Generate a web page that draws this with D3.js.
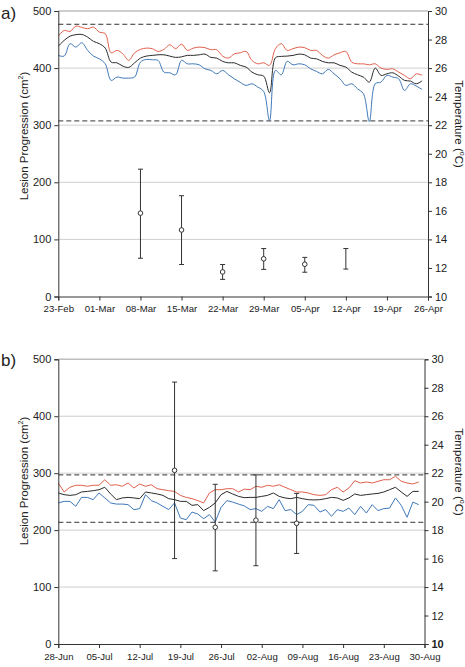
<!DOCTYPE html>
<html><head><meta charset="utf-8">
<script src="https://cdn.jsdelivr.net/npm/d3@7"></script>
<style>body{margin:0;background:#fff}svg{display:block;font-family:"Liberation Sans",Arial,sans-serif}</style>
</head><body><svg id="c" width="465" height="667"></svg>
<script>
// ---------- Panel a) data ----------
const aStart = "2008-02-23";
const aTickLabels = ["23-Feb","01-Mar","08-Mar","15-Mar","22-Mar","29-Mar","05-Apr","12-Apr","19-Apr","26-Apr"];
const aMax = [28.24,28.64,28.57,28.94,28.85,28.76,28.87,28.52,28.41,27.07,27.24,27.0,26.54,27.07,27.31,27.4,27.36,27.17,27.31,27.64,27.36,27.68,27.24,27.4,27.47,27.43,27.29,27.29,26.84,26.7,27.0,27.07,
  27.17,26.54,26.3,26.37,26.19,27.36,27.71,27.24,27.36,27.47,27.43,27.24,27.24,26.89,26.7,26.93,27.07,27.17,26.42,26.3,26.3,26.23,26.3,26.0,25.91,25.95,25.72,25.49,25.25,25.6,25.49];
const aMean = [27.54,27.94,28.24,28.34,28.36,28.17,27.87,27.71,27.4,26.42,26.37,26.14,26.05,26.37,26.7,26.84,26.89,26.93,26.93,26.84,26.75,26.79,26.89,26.89,26.93,26.98,26.75,26.7,26.47,26.37,26.37,26.19,
  26.07,25.72,25.53,25.44,24.27,26.72,26.82,26.84,26.89,26.98,26.93,26.7,26.65,26.47,26.37,26.37,26.19,26.07,25.72,25.53,25.37,25.02,26.0,25.49,25.6,25.67,25.44,25.14,25.09,24.9,25.11];
const aMin = [26.89,26.84,27.71,27.47,27.78,27.24,26.84,26.65,26.3,25.14,25.37,25.3,25.3,25.37,26.42,26.61,26.58,26.54,25.72,25.67,25.53,26.54,26.3,26.3,26.23,25.95,25.84,25.6,25.84,25.53,25.25,25.0,
  24.79,24.9,24.67,24.36,22.33,25.84,25.53,26.47,26.23,26.3,26.23,25.95,25.77,25.6,25.91,25.6,25.25,24.79,24.9,24.55,24.2,22.26,24.9,25.02,25.49,25.37,25.25,24.43,24.9,24.74,24.5];
const aDashed = [29.07, 22.3];
const aBarDates = ["2008-03-08","2008-03-15","2008-03-22","2008-03-29","2008-04-05","2008-04-12"];
const aBarMean = [146, 116.5, 43, 66, 56.5, null];
const aBarLow  = [67, 56, 30, 47.5, 42.5, 48];
const aBarHigh = [223, 176.5, 56, 84, 68.5, 84];

// ---------- Panel b) data ----------
const bStart = "2008-06-28";
const bTickLabels = ["28-Jun","05-Jul","12-Jul","19-Jul","26-Jul","02-Aug","09-Aug","16-Aug","23-Aug","30-Aug"];
const bMax = [21.31,20.68,21.01,21.15,21.15,21.08,21.15,21.15,21.54,21.15,21.19,21.08,21.31,20.96,21.24,21.08,21.19,20.91,20.84,20.77,20.72,20.44,20.3,20.21,20.07,19.91,20.61,20.84,20.84,20.91,20.91,20.68,
  20.88,20.84,21.08,21.01,21.15,21.08,21.19,21.01,20.84,20.68,20.68,20.61,20.49,20.44,20.49,20.84,21.01,20.68,20.96,21.47,21.31,21.38,21.31,21.43,21.54,21.54,21.78,21.43,21.31,21.24,21.38];
const bMean = [20.61,20.49,20.44,20.49,20.68,20.72,20.77,20.84,21.01,20.54,20.14,20.26,20.3,20.26,20.21,20.68,20.61,20.54,20.44,20.21,20.14,20.02,20.02,19.74,19.79,19.37,19.6,19.91,20.49,20.72,20.54,20.37,
  20.28,20.3,20.3,20.37,20.44,20.61,20.37,20.26,20.21,20.3,20.21,20.14,20.12,20.14,20.21,20.3,20.26,20.09,20.26,20.54,20.44,20.49,20.54,20.58,20.68,20.84,21.01,20.68,20.37,20.72,20.72];
const bMin = [19.91,20.02,20.02,19.67,20.3,20.3,20.14,20.61,20.26,19.91,19.83,19.83,19.79,19.44,19.51,20.49,20.07,19.91,19.67,19.44,19.91,18.85,18.73,19.27,19.13,18.8,19.09,18.57,19.6,20.07,19.97,19.83,
  19.7,19.44,19.51,19.32,19.67,19.51,20.14,19.37,19.44,19.09,19.32,19.79,19.74,19.27,19.44,18.97,19.44,19.32,19.55,19.09,19.67,19.2,19.79,19.37,19.51,19.55,20.26,19.74,18.9,19.97,19.79];
const bDashed = [21.88, 18.55];
const bBarDates = ["2008-07-18","2008-07-25","2008-08-01","2008-08-08"];
const bBarMean = [305, 205, 217.5, 212];
const bBarLow  = [150, 128.5, 137.5, 159];
const bBarHigh = [460, 280.5, 297, 264.5];

const lesionTicks = [0,100,200,300,400,500];
const tempTicks = [10,12,14,16,18,20,22,24,26,28,30];

const svg = d3.select("#c");
const parse = d3.timeParse("%Y-%m-%d");
const fmt = d3.timeFormat("%d-%b");

function panel(o) {
  const g = svg.append("g");
  const start = parse(o.start);
  const days = d3.range(o.max.length).map(i => d3.timeDay.offset(start, i));
  const tickDates = o.tickLabels.map((t, i) => d3.timeDay.offset(start, 7 * i));
  const x = d3.scaleTime().domain([start, tickDates[tickDates.length - 1]]).range([o.left, o.right]);
  const y = d3.scaleLinear().domain([0, 500]).range([o.bottom, o.top]);
  const yT = d3.scaleLinear().domain([10, 30]).range([o.bottom, o.top]);

  // gridlines
  g.selectAll(".grid").data(lesionTicks.filter(d => d > 0)).join("line")
    .attr("x1", o.left).attr("x2", o.right)
    .attr("y1", d => y(d)).attr("y2", d => y(d))
    .attr("stroke", d => d === 500 ? "#bdbdbd" : "#cfcfcf").attr("stroke-width", d => d === 500 ? 1.5 : 1);

  // dashed thresholds
  g.selectAll(".dash").data(o.dashed).join("line")
    .attr("x1", o.left).attr("x2", o.right)
    .attr("y1", d => yT(d)).attr("y2", d => yT(d))
    .attr("stroke", "#333").attr("stroke-width", 1).attr("stroke-dasharray", "5,3");

  // temperature lines
  const line = d3.line().x((d, i) => x(days[i])).y(d => yT(d)).curve(o.curve);
  [[o.max, "#e0604c"], [o.mean, "#2b2b2b"], [o.min, "#3f78b8"]].forEach(([s, c]) => {
    g.append("path").datum(s).attr("d", line).attr("fill", "none")
      .attr("stroke", c).attr("stroke-width", 1);
  });

  // error bars
  const bars = o.barDates.map((d, i) => ({ x: x(parse(d)), m: o.barMean[i], lo: o.barLow[i], hi: o.barHigh[i] }));
  const eb = g.selectAll(".eb").data(bars).join("g");
  eb.append("line").attr("x1", d => d.x).attr("x2", d => d.x).attr("y1", d => y(d.lo)).attr("y2", d => y(d.hi))
    .attr("stroke", "#333").attr("stroke-width", 1);
  eb.append("line").attr("x1", d => d.x - 2.5).attr("x2", d => d.x + 2.5).attr("y1", d => y(d.lo)).attr("y2", d => y(d.lo))
    .attr("stroke", "#333").attr("stroke-width", 1);
  eb.append("line").attr("x1", d => d.x - 2.5).attr("x2", d => d.x + 2.5).attr("y1", d => y(d.hi)).attr("y2", d => y(d.hi))
    .attr("stroke", "#333").attr("stroke-width", 1);
  eb.filter(d => d.m != null).append("circle").attr("cx", d => d.x).attr("cy", d => y(d.m)).attr("r", 2.3)
    .attr("fill", "#fff").attr("stroke", "#333").attr("stroke-width", 1);

  // axes
  const xAxis = d3.axisBottom(x).tickValues(tickDates).tickFormat((d, i) => o.tickLabels[i]).tickSizeOuter(0).tickSize(4).tickPadding(5);
  const gx = g.append("g").attr("transform", `translate(0,${o.bottom})`).call(xAxis);
  gx.selectAll("text").attr("font-size", 9.6).attr("fill", "#222").attr("font-family", "Liberation Sans, Arial, sans-serif");

  const yAxis = d3.axisLeft(y).tickValues(lesionTicks).tickSizeOuter(0).tickSize(4).tickPadding(3);
  const gy = g.append("g").attr("transform", `translate(${o.left},0)`).call(yAxis);
  gy.selectAll("text").attr("font-size", 11).attr("fill", "#222").attr("font-family", "Liberation Sans, Arial, sans-serif");

  const yrAxis = d3.axisRight(yT).tickValues(tempTicks).tickSizeOuter(0).tickSize(4).tickPadding(3);
  const gyr = g.append("g").attr("transform", `translate(${o.right},0)`).call(yrAxis);
  gyr.selectAll("text").attr("font-size", 11).attr("fill", "#222").attr("font-family", "Liberation Sans, Arial, sans-serif")
    .attr("font-weight", d => (o.boldTen && d === 10) ? "bold" : "normal");
  [gx, gy, gyr].forEach(a => a.selectAll("path,line").attr("stroke", "#333"));

  // panel letter
  g.append("text").attr("x", 1).attr("y", o.letterY).attr("font-size", 17).attr("fill", "#222").text(o.letter);

  // left axis title
  const lt = g.append("text").attr("transform", `translate(28,${o.leftTitleY}) rotate(-90)`)
    .attr("text-anchor", "middle").attr("font-size", 11.5).attr("fill", "#222");
  lt.append("tspan").text("Lesion Progression (cm");
  lt.append("tspan").attr("font-size", 7).attr("dy", -5).text("2");
  lt.append("tspan").attr("dy", 5).text(")");

  const rt = g.append("text").attr("transform", `translate(455,${o.rightTitleY}) rotate(90)`)
    .attr("text-anchor", "middle").attr("font-size", 11.5).attr("fill", "#222");
  rt.append("tspan").text("Temperature (");
  rt.append("tspan").attr("font-size", 7).attr("dy", -5).text("o");
  rt.append("tspan").attr("dy", 5).text("C)");
}

panel({ start: aStart, tickLabels: aTickLabels, max: aMax, mean: aMean, min: aMin, dashed: aDashed,
  barDates: aBarDates, barMean: aBarMean, barLow: aBarLow, barHigh: aBarHigh,
  left: 58.3, right: 428, top: 11, bottom: 296.5, curve: d3.curveCatmullRom.alpha(0.5),
  letter: "a)", letterY: 19, leftTitleY: 136, rightTitleY: 124, boldTen: false });

panel({ start: bStart, tickLabels: bTickLabels, max: bMax, mean: bMean, min: bMin, dashed: bDashed,
  barDates: bBarDates, barMean: bBarMean, barLow: bBarLow, barHigh: bBarHigh,
  left: 58.3, right: 424.5, top: 359.3, bottom: 644, curve: d3.curveLinear,
  letter: "b)", letterY: 366, leftTitleY: 481, rightTitleY: 472, boldTen: true });
</script></body></html>
